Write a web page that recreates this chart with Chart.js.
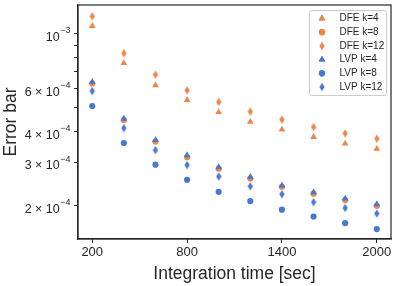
<!DOCTYPE html>
<html>
<head>
<meta charset="utf-8">
<script src="https://cdn.jsdelivr.net/npm/chart.js@4"></script>
<style>
  html, body { margin: 0; padding: 0; background: #fff; }
  #wrap { width: 398px; height: 286px; }
</style>
</head>
<body>
<div id="wrap"><canvas id="chart" width="398" height="286"></canvas></div>
<script>
// Данные
const times = [200, 400, 600, 800, 1000, 1200, 1400, 1600, 1800, 2000];
const dfeK4  = [1.078e-3, 7.61e-4, 6.17e-4, 5.38e-4, 4.80e-4, 4.38e-4, 4.07e-4, 3.80e-4, 3.57e-4, 3.40e-4];
const dfeK8  = [6.28e-4, 4.46e-4, 3.64e-4, 3.14e-4, 2.82e-4, 2.57e-4, 2.38e-4, 2.23e-4, 2.10e-4, 1.99e-4];
const dfeK12 = [1.181e-3, 8.34e-4, 6.82e-4, 5.89e-4, 5.28e-4, 4.82e-4, 4.47e-4, 4.17e-4, 3.93e-4, 3.74e-4];
const lvpK4  = [6.37e-4, 4.51e-4, 3.69e-4, 3.20e-4, 2.86e-4, 2.61e-4, 2.41e-4, 2.26e-4, 2.13e-4, 2.02e-4];
const lvpK8  = [5.08e-4, 3.59e-4, 2.93e-4, 2.54e-4, 2.27e-4, 2.08e-4, 1.92e-4, 1.80e-4, 1.69e-4, 1.60e-4];
const lvpK12 = [5.85e-4, 4.13e-4, 3.36e-4, 2.92e-4, 2.62e-4, 2.39e-4, 2.22e-4, 2.06e-4, 1.95e-4, 1.85e-4];

const xTicks = [200, 800, 1400, 2000];
const yTicks = [2e-4, 3e-4, 4e-4, 5e-4, 6e-4, 7e-4, 8e-4, 9e-4, 1e-3];
// подписи оси Y: значение, мантисса, порядок
const yLabelValues = [2e-4, 3e-4, 4e-4, 6e-4, 1e-3];
const yLabelBase = ['2 × 10', '3 × 10', '4 × 10', '6 × 10', '10'];
const yLabelExp = ['−4', '−4', '−4', '−4', '−3'];

const ORANGE = '#ee854a';
const BLUE = '#4878d0';
const AXIS = '#262626';
const FONT = '"Liberation Sans", Arial, sans-serif';

// Узкий ромб (как маркер 'd' в matplotlib)
function thinDiamond(color) {
    const c = document.createElement('canvas');
    c.width = 6;
    c.height = 9;
    const g = c.getContext('2d');
    g.fillStyle = color;
    g.beginPath();
    g.moveTo(3, 0.3);
    g.lineTo(5.6, 4.5);
    g.lineTo(3, 8.7);
    g.lineTo(0.4, 4.5);
    g.closePath();
    g.fill();
    return c;
}

function series(label, data, color, style, order) {
    const pt = style === 'diamond' ? thinDiamond(color) : style;
    return {
        label: label,
        data: data.map((v, i) => ({ x: times[i], y: v })),
        backgroundColor: color,
        borderColor: color,
        borderWidth: 0,
        pointStyle: pt,
        pointRadius: style === 'triangle' ? 3.9 : 3.1,
        showLine: false,
        order: order
    };
}

const datasets = [
    series('DFE k=4', dfeK4, ORANGE, 'triangle', 6),
    series('DFE k=8', dfeK8, ORANGE, 'circle', 5),
    series('DFE k=12', dfeK12, ORANGE, 'diamond', 4),
    series('LVP k=4', lvpK4, BLUE, 'triangle', 3),
    series('LVP k=8', lvpK8, BLUE, 'circle', 2),
    series('LVP k=12', lvpK12, BLUE, 'diamond', 1)
];

// Рамка, подписи оси Y со степенями и легенда
const framePlugin = {
    id: 'frame',
    afterDraw(chart) {
        const ctx = chart.ctx;
        const a = chart.chartArea;
        const yScale = chart.scales.y;
        ctx.save();
        ctx.strokeStyle = AXIS;
        ctx.lineWidth = 1.2;
        ctx.strokeRect(a.left, a.top, a.right - a.left, a.bottom - a.top);

        // подписи Y: 6 × 10^-4
        ctx.fillStyle = AXIS;
        ctx.textAlign = 'right';
        ctx.textBaseline = 'alphabetic';
        yLabelValues.forEach((v, i) => {
            const py = yScale.getPixelForValue(v);
            ctx.font = '9px ' + FONT;
            const expW = ctx.measureText(yLabelExp[i]).width;
            ctx.fillText(yLabelExp[i], 70.5, py - 0.5);
            ctx.font = '12.5px ' + FONT;
            ctx.fillText(yLabelBase[i], 70.5 - expW - 0.5, py + 7.3);
        });

        // легенда
        const bx = 309.5, by = 10.5, bw = 77, bh = 85;
        ctx.fillStyle = 'rgba(255,255,255,0.8)';
        ctx.strokeStyle = '#cccccc';
        ctx.lineWidth = 1;
        ctx.beginPath();
        ctx.roundRect(bx, by, bw, bh, 2);
        ctx.fill();
        ctx.stroke();
        ctx.font = '10px ' + FONT;
        ctx.textBaseline = 'middle';
        ctx.textAlign = 'left';
        chart.data.datasets.forEach((ds, i) => {
            const y = 18.5 + i * 13.7;
            const x = 322;
            if (ds.pointStyle instanceof HTMLCanvasElement) {
                ctx.drawImage(ds.pointStyle, x - 3, y - 4.5);
            } else {
                ctx.fillStyle = ds.backgroundColor;
                Chart.helpers.drawPoint(ctx, { pointStyle: ds.pointStyle, radius: ds.pointRadius, borderWidth: 0 }, x, y);
                ctx.fill();
            }
            ctx.fillStyle = AXIS;
            ctx.fillText(ds.label, 339.5, y);
        });
        ctx.restore();
    }
};

new Chart(document.getElementById('chart'), {
    type: 'scatter',
    data: { datasets: datasets },
    options: {
        responsive: false,
        animation: false,
        layout: { padding: { top: 5, right: 7, left: 0, bottom: 0 } },
        plugins: {
            legend: { display: false },
            tooltip: { enabled: false }
        },
        scales: {
            x: {
                type: 'linear',
                min: 110,
                max: 2090,
                afterBuildTicks: axis => { axis.ticks = xTicks.map(v => ({ value: v })); },
                afterFit: axis => { axis.height = 47; },
                grid: { drawOnChartArea: false, drawTicks: true, tickLength: 4, color: AXIS },
                border: { display: true, color: AXIS, width: 1.2 },
                ticks: {
                    color: AXIS,
                    font: { family: FONT, size: 13 },
                    padding: 2,
                    maxRotation: 0,
                    callback: v => String(v)
                },
                title: {
                    display: true,
                    text: 'Integration time [sec]',
                    color: AXIS,
                    font: { family: FONT, size: 17.5 },
                    padding: { top: 0, bottom: 1 }
                }
            },
            y: {
                type: 'logarithmic',
                min: 1.457e-4,
                max: 1.313e-3,
                afterBuildTicks: axis => { axis.ticks = yTicks.map(v => ({ value: v })); },
                afterFit: axis => { axis.width = 78; },
                grid: { drawOnChartArea: false, drawTicks: true, tickLength: 4, color: AXIS },
                border: { display: true, color: AXIS, width: 1.2 },
                ticks: { display: false },
                title: {
                    display: true,
                    text: 'Error bar',
                    color: AXIS,
                    font: { family: FONT, size: 17.5 },
                    padding: { top: 1, bottom: 0 }
                }
            }
        }
    },
    plugins: [framePlugin]
});
</script>
</body>
</html>
